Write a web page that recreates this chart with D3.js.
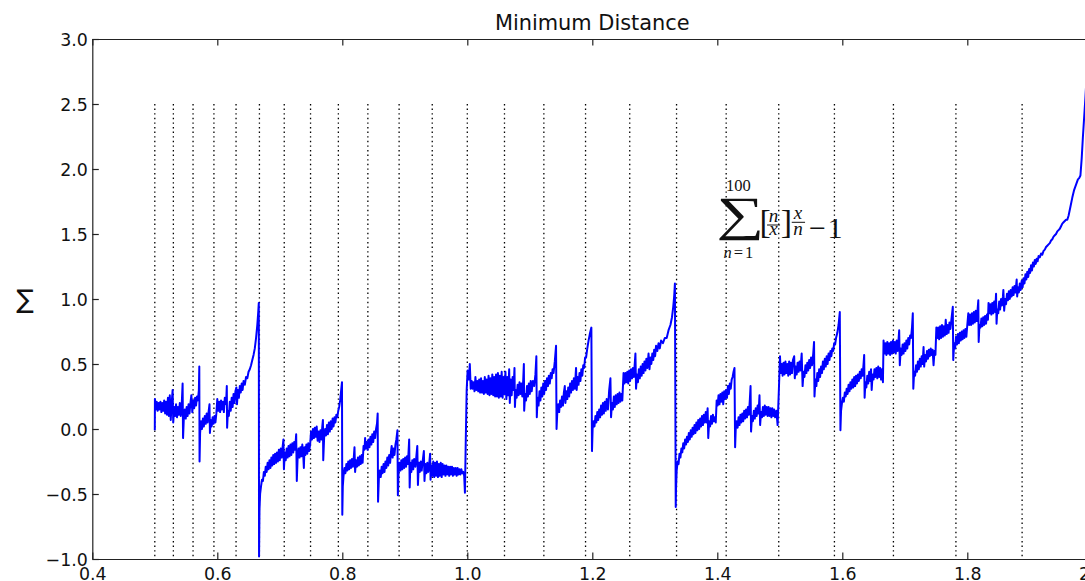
<!DOCTYPE html>
<html>
<head>
<meta charset="utf-8">
<script src="https://cdn.jsdelivr.net/npm/d3@7"></script>
<style>
  html, body { margin: 0; padding: 0; background: #fff; overflow: hidden; }
  text { font-family: "DejaVu Sans", sans-serif; }
  .math text { font-family: "Liberation Serif", "DejaVu Serif", serif; }
</style>
</head>
<body>
<svg id="chart" width="1085" height="581"></svg>
<script>
// Sum of rounded ratios minus one, sampled between x = 1/2 and x = 2.
// Each piece runs between two of the large jumps (2/3, 4/5, 1, 4/3, 3/2, 8/5).
const curveA = [[0.5000,-0.01],[0.5002,0.23],[0.5015,0.15],[0.5030,0.21],[0.5045,0.14],[0.5060,0.20],[0.5075,0.15],[0.5090,0.21],[0.5105,0.13],[0.5120,0.20],[0.5135,0.14],[0.5150,0.22],[0.5165,0.12],[0.5180,0.21],[0.5195,0.11],[0.5210,0.24],[0.5225,0.10],[0.5240,0.26],[0.5255,0.07],[0.5270,0.20],[0.5285,0.30],[0.5295,0.05],[0.5310,0.17],[0.5325,0.10],[0.5340,0.19],[0.5355,0.09],[0.5370,0.17],[0.5385,0.11],[0.5400,0.20],[0.5415,0.10],[0.5430,0.18],[0.5445,0.35],[0.5452,-0.07],[0.5465,0.09],[0.5480,0.15],[0.5495,0.08],[0.5510,0.17],[0.5525,0.10],[0.5540,0.19],[0.5555,0.12],[0.5570,0.20],[0.5585,0.26],[0.5600,0.13],[0.5615,0.22],[0.5630,0.16],[0.5645,0.24],[0.5660,0.18],[0.5675,0.25],[0.5690,0.22],[0.5705,0.30],[0.5712,0.48],[0.5716,-0.25],[0.5725,-0.03],[0.5740,0.06],[0.5755,0.00],[0.5770,0.08],[0.5785,0.02],[0.5800,0.10],[0.5815,0.04],[0.5830,0.12],[0.5845,0.05],[0.5860,0.13],[0.5875,0.19],[0.5882,-0.03],[0.5895,0.07],[0.5910,0.02],[0.5925,0.09],[0.5940,0.04],[0.5955,0.10],[0.5970,0.05],[0.5985,0.12],[0.6000,0.23],[0.6015,0.14],[0.6030,0.21],[0.6045,0.13],[0.6060,0.22],[0.6075,0.15],[0.6090,0.21],[0.6105,0.13],[0.6120,0.24],[0.6140,0.19],[0.6152,0.33],[0.6157,0.01],[0.6170,0.14],[0.6185,0.10],[0.6200,0.21],[0.6215,0.14],[0.6230,0.24],[0.6245,0.17],[0.6260,0.27],[0.6275,0.20],[0.6290,0.29],[0.6305,0.32],[0.6315,0.19],[0.6330,0.30],[0.6345,0.24],[0.6360,0.33],[0.6375,0.28],[0.6390,0.35],[0.6405,0.30],[0.6420,0.37],[0.6440,0.34],[0.6460,0.40],[0.6480,0.39],[0.6500,0.44],[0.6520,0.46],[0.6540,0.49],[0.6560,0.53],[0.6580,0.57],[0.6600,0.62],[0.6620,0.70],[0.6640,0.80],[0.6655,0.90],[0.6664,0.97],[0.6668,-0.98]];

const curveB = [[0.6675,-0.62],[0.6685,-0.50],[0.6700,-0.44],[0.6715,-0.39],[0.6730,-0.40],[0.6745,-0.33],[0.6760,-0.36],[0.6775,-0.29],[0.6790,-0.33],[0.6805,-0.26],[0.6820,-0.31],[0.6835,-0.24],[0.6850,-0.30],[0.6865,-0.22],[0.6880,-0.28],[0.6895,-0.20],[0.6910,-0.27],[0.6925,-0.19],[0.6940,-0.26],[0.6955,-0.18],[0.6970,-0.25],[0.6985,-0.16],[0.7000,-0.24],[0.7015,-0.15],[0.7030,-0.22],[0.7045,-0.14],[0.7058,-0.08],[0.7066,-0.31],[0.7080,-0.18],[0.7095,-0.24],[0.7110,-0.15],[0.7125,-0.22],[0.7140,-0.13],[0.7155,-0.21],[0.7170,-0.12],[0.7185,-0.20],[0.7200,-0.11],[0.7215,-0.18],[0.7230,-0.10],[0.7245,-0.16],[0.7262,-0.04],[0.7272,-0.40],[0.7285,-0.22],[0.7300,-0.15],[0.7315,-0.22],[0.7330,-0.14],[0.7345,-0.21],[0.7360,-0.12],[0.7375,-0.20],[0.7385,-0.30],[0.7395,-0.14],[0.7410,-0.20],[0.7425,-0.12],[0.7440,-0.19],[0.7455,-0.11],[0.7470,-0.17],[0.7485,-0.12],[0.7500,-0.02],[0.7515,-0.08],[0.7530,0.00],[0.7545,-0.07],[0.7560,0.01],[0.7575,-0.06],[0.7590,0.02],[0.7605,-0.09],[0.7620,-0.02],[0.7635,-0.10],[0.7650,-0.01],[0.7665,-0.08],[0.7680,0.02],[0.7690,0.07],[0.7695,-0.24],[0.7710,-0.06],[0.7725,0.00],[0.7740,-0.05],[0.7755,0.03],[0.7770,-0.04],[0.7785,0.05],[0.7800,-0.02],[0.7815,0.06],[0.7830,0.00],[0.7845,0.08],[0.7860,0.02],[0.7875,0.09],[0.7890,0.05],[0.7905,0.11],[0.7920,0.09],[0.7935,0.14],[0.7950,0.17],[0.7965,0.22],[0.7980,0.29],[0.7995,0.36]];

const curveC = [[0.8000,-0.66],[0.8008,-0.44],[0.8020,-0.36],[0.8035,-0.30],[0.8050,-0.34],[0.8065,-0.27],[0.8080,-0.32],[0.8095,-0.25],[0.8110,-0.31],[0.8125,-0.24],[0.8140,-0.30],[0.8155,-0.23],[0.8170,-0.29],[0.8185,-0.21],[0.8195,-0.14],[0.8205,-0.33],[0.8220,-0.24],[0.8235,-0.29],[0.8250,-0.22],[0.8265,-0.28],[0.8280,-0.21],[0.8295,-0.27],[0.8310,-0.20],[0.8325,-0.26],[0.8340,-0.13],[0.8355,-0.16],[0.8365,-0.07],[0.8375,-0.15],[0.8390,-0.10],[0.8405,-0.16],[0.8420,-0.08],[0.8435,-0.14],[0.8450,-0.06],[0.8465,-0.12],[0.8480,-0.04],[0.8495,-0.10],[0.8510,-0.02],[0.8525,-0.07],[0.8540,0.00],[0.8555,0.04],[0.8566,0.12],[0.8572,-0.56],[0.8585,-0.38],[0.8600,-0.32],[0.8615,-0.37],[0.8630,-0.29],[0.8645,-0.34],[0.8660,-0.27],[0.8675,-0.33],[0.8690,-0.25],[0.8705,-0.30],[0.8720,-0.22],[0.8735,-0.28],[0.8750,-0.20],[0.8765,-0.26],[0.8780,-0.17],[0.8790,-0.13],[0.8805,-0.22],[0.8820,-0.15],[0.8835,-0.20],[0.8850,-0.12],[0.8865,-0.08],[0.8882,-0.01],[0.8889,-0.51],[0.8900,-0.34],[0.8915,-0.26],[0.8930,-0.32],[0.8945,-0.24],[0.8960,-0.31],[0.8975,-0.23],[0.8990,-0.30],[0.9005,-0.22],[0.9020,-0.29],[0.9035,-0.21],[0.9050,-0.27],[0.9070,-0.08],[0.9078,-0.45],[0.9090,-0.26],[0.9105,-0.33],[0.9120,-0.24],[0.9135,-0.31],[0.9150,-0.23],[0.9170,-0.29],[0.9200,-0.13],[0.9210,-0.43],[0.9225,-0.26],[0.9240,-0.33],[0.9255,-0.25],[0.9270,-0.32],[0.9285,-0.25],[0.9305,-0.17],[0.9315,-0.40],[0.9330,-0.27],[0.9345,-0.34],[0.9360,-0.26],[0.9375,-0.33],[0.9390,-0.27],[0.9405,-0.19],[0.9412,-0.39],[0.9425,-0.28],[0.9440,-0.36],[0.9455,-0.25],[0.9470,-0.37],[0.9485,-0.26],[0.9500,-0.36],[0.9515,-0.25],[0.9530,-0.37],[0.9545,-0.27],[0.9560,-0.36],[0.9575,-0.26],[0.9590,-0.37],[0.9605,-0.27],[0.9620,-0.35],[0.9635,-0.28],[0.9650,-0.36],[0.9665,-0.28],[0.9680,-0.35],[0.9695,-0.29],[0.9710,-0.36],[0.9725,-0.29],[0.9740,-0.35],[0.9755,-0.29],[0.9770,-0.36],[0.9785,-0.30],[0.9800,-0.35],[0.9815,-0.30],[0.9830,-0.36],[0.9845,-0.30],[0.9860,-0.35],[0.9875,-0.31],[0.9890,-0.35],[0.9905,-0.31],[0.9920,-0.34],[0.9935,-0.33],[0.9950,-0.36],[0.9962,-0.49],[0.9975,-0.10],[0.9990,0.30]];

const curveD = [[1.0005,0.45],[1.0025,0.38],[1.0040,0.50],[1.0055,0.31],[1.0070,0.37],[1.0085,0.31],[1.0100,0.36],[1.0115,0.29],[1.0130,0.40],[1.0145,0.30],[1.0160,0.37],[1.0175,0.29],[1.0190,0.38],[1.0205,0.28],[1.0220,0.39],[1.0235,0.28],[1.0250,0.37],[1.0265,0.27],[1.0280,0.40],[1.0295,0.28],[1.0310,0.38],[1.0325,0.27],[1.0340,0.41],[1.0355,0.26],[1.0370,0.39],[1.0385,0.27],[1.0400,0.42],[1.0415,0.26],[1.0430,0.40],[1.0445,0.25],[1.0460,0.42],[1.0475,0.25],[1.0490,0.43],[1.0505,0.24],[1.0520,0.41],[1.0535,0.25],[1.0550,0.44],[1.0565,0.24],[1.0580,0.40],[1.0595,0.27],[1.0610,0.44],[1.0625,0.23],[1.0640,0.40],[1.0655,0.26],[1.0670,0.46],[1.0680,0.20],[1.0695,0.38],[1.0710,0.26],[1.0725,0.40],[1.0740,0.30],[1.0755,0.47],[1.0762,0.17],[1.0775,0.30],[1.0790,0.24],[1.0805,0.34],[1.0820,0.26],[1.0835,0.36],[1.0850,0.27],[1.0865,0.35],[1.0880,0.25],[1.0895,0.38],[1.0905,0.50],[1.0910,0.14],[1.0925,0.27],[1.0940,0.22],[1.0955,0.33],[1.0970,0.25],[1.0985,0.35],[1.1000,0.27],[1.1015,0.37],[1.1030,0.29],[1.1050,0.37],[1.1070,0.33],[1.1090,0.42],[1.1105,0.56],[1.1112,0.09],[1.1125,0.24],[1.1140,0.18],[1.1155,0.29],[1.1170,0.22],[1.1185,0.32],[1.1200,0.25],[1.1215,0.35],[1.1230,0.27],[1.1245,0.37],[1.1260,0.30],[1.1275,0.39],[1.1290,0.33],[1.1305,0.41],[1.1320,0.35],[1.1335,0.43],[1.1350,0.39],[1.1365,0.46],[1.1380,0.43],[1.1400,0.52],[1.1420,0.64],[1.1428,0.00],[1.1440,0.13],[1.1455,0.19],[1.1470,0.13],[1.1485,0.22],[1.1500,0.17],[1.1515,0.25],[1.1530,0.18],[1.1545,0.28],[1.1560,0.33],[1.1570,0.20],[1.1585,0.29],[1.1600,0.23],[1.1615,0.32],[1.1630,0.25],[1.1645,0.35],[1.1660,0.28],[1.1675,0.37],[1.1690,0.30],[1.1705,0.39],[1.1720,0.31],[1.1740,0.47],[1.1750,0.30],[1.1765,0.40],[1.1780,0.34],[1.1795,0.43],[1.1810,0.37],[1.1825,0.46],[1.1840,0.41],[1.1855,0.49],[1.1870,0.47],[1.1885,0.55],[1.1900,0.55],[1.1920,0.62],[1.1940,0.68],[1.1960,0.73],[1.1985,0.78],[1.1995,-0.17],[1.2005,0.00],[1.2020,0.06],[1.2035,0.02],[1.2050,0.10],[1.2065,0.05],[1.2080,0.13],[1.2095,0.07],[1.2110,0.15],[1.2125,0.09],[1.2140,0.18],[1.2155,0.11],[1.2170,0.20],[1.2185,0.12],[1.2200,0.21],[1.2215,0.14],[1.2230,0.23],[1.2250,0.15],[1.2270,0.30],[1.2290,0.39],[1.2300,0.09],[1.2315,0.20],[1.2330,0.15],[1.2345,0.25],[1.2360,0.17],[1.2375,0.26],[1.2390,0.19],[1.2405,0.27],[1.2420,0.20],[1.2435,0.28],[1.2450,0.21],[1.2465,0.27],[1.2480,0.22],[1.2500,0.43],[1.2515,0.35],[1.2530,0.43],[1.2545,0.36],[1.2560,0.44],[1.2575,0.35],[1.2590,0.45],[1.2605,0.37],[1.2620,0.46],[1.2635,0.39],[1.2650,0.47],[1.2665,0.40],[1.2690,0.58],[1.2700,0.31],[1.2715,0.42],[1.2730,0.36],[1.2745,0.46],[1.2760,0.39],[1.2775,0.48],[1.2790,0.41],[1.2805,0.50],[1.2820,0.43],[1.2835,0.52],[1.2850,0.45],[1.2865,0.54],[1.2880,0.47],[1.2900,0.58],[1.2915,0.46],[1.2930,0.55],[1.2945,0.50],[1.2960,0.58],[1.2975,0.53],[1.2990,0.61],[1.3005,0.56],[1.3020,0.64],[1.3040,0.60],[1.3060,0.66],[1.3080,0.62],[1.3100,0.68],[1.3130,0.66],[1.3160,0.70],[1.3190,0.70],[1.3220,0.76],[1.3250,0.80],[1.3275,0.86],[1.3295,0.94],[1.3310,1.02],[1.3322,1.12],[1.3335,-0.60]];

const curveE = [[1.3340,-0.45],[1.3350,-0.32],[1.3365,-0.25],[1.3380,-0.27],[1.3395,-0.19],[1.3410,-0.22],[1.3425,-0.15],[1.3440,-0.18],[1.3455,-0.11],[1.3470,-0.15],[1.3485,-0.08],[1.3500,-0.12],[1.3515,-0.06],[1.3530,-0.10],[1.3545,-0.03],[1.3560,-0.08],[1.3575,-0.01],[1.3590,-0.06],[1.3605,0.01],[1.3620,-0.04],[1.3635,0.03],[1.3650,-0.03],[1.3665,0.05],[1.3680,-0.01],[1.3695,0.07],[1.3710,0.00],[1.3725,0.08],[1.3740,0.02],[1.3755,0.10],[1.3770,0.03],[1.3785,0.11],[1.3800,0.05],[1.3815,0.13],[1.3830,0.05],[1.3845,0.16],[1.3855,-0.07],[1.3870,0.06],[1.3885,0.02],[1.3900,0.10],[1.3915,0.04],[1.3930,0.11],[1.3945,0.06],[1.3960,0.09],[1.3975,0.05],[1.3990,0.22],[1.4005,0.18],[1.4020,0.26],[1.4035,0.19],[1.4050,0.27],[1.4065,0.21],[1.4080,0.28],[1.4095,0.19],[1.4110,0.29],[1.4125,0.23],[1.4140,0.30],[1.4155,0.24],[1.4170,0.33],[1.4185,0.27],[1.4200,0.35],[1.4215,0.31],[1.4230,0.38],[1.4245,0.40],[1.4260,0.44],[1.4275,0.47],[1.4285,-0.14],[1.4295,0.00],[1.4310,0.06],[1.4325,0.01],[1.4340,0.09],[1.4355,0.03],[1.4370,0.11],[1.4385,0.05],[1.4400,0.12],[1.4415,0.06],[1.4430,0.14],[1.4445,0.08],[1.4460,0.15],[1.4475,0.09],[1.4490,0.17],[1.4505,0.11],[1.4520,0.22],[1.4532,0.33],[1.4540,-0.02],[1.4555,0.10],[1.4570,0.06],[1.4585,0.14],[1.4600,0.08],[1.4615,0.16],[1.4630,0.10],[1.4645,0.18],[1.4660,0.12],[1.4675,0.26],[1.4685,0.03],[1.4700,0.13],[1.4715,0.09],[1.4730,0.17],[1.4745,0.10],[1.4760,0.18],[1.4775,0.11],[1.4790,0.17],[1.4805,0.10],[1.4820,0.17],[1.4835,0.10],[1.4850,0.16],[1.4865,0.09],[1.4880,0.16],[1.4895,0.10],[1.4910,0.15],[1.4925,0.09],[1.4945,0.14],[1.4965,0.03],[1.4985,0.30],[1.5003,0.56]];

const curveF = [[1.5015,0.43],[1.5030,0.50],[1.5045,0.41],[1.5060,0.51],[1.5075,0.42],[1.5090,0.52],[1.5105,0.43],[1.5120,0.50],[1.5135,0.41],[1.5150,0.52],[1.5165,0.42],[1.5180,0.51],[1.5195,0.43],[1.5210,0.53],[1.5230,0.56],[1.5240,0.39],[1.5255,0.48],[1.5270,0.42],[1.5285,0.51],[1.5300,0.44],[1.5315,0.52],[1.5330,0.45],[1.5350,0.58],[1.5365,0.33],[1.5380,0.44],[1.5395,0.40],[1.5410,0.49],[1.5425,0.43],[1.5440,0.51],[1.5455,0.45],[1.5470,0.53],[1.5485,0.47],[1.5500,0.55],[1.5515,0.49],[1.5535,0.58],[1.5548,0.67],[1.5555,0.25],[1.5570,0.38],[1.5585,0.33],[1.5600,0.43],[1.5615,0.37],[1.5630,0.46],[1.5645,0.40],[1.5660,0.48],[1.5675,0.43],[1.5690,0.52],[1.5705,0.46],[1.5720,0.54],[1.5735,0.48],[1.5750,0.56],[1.5765,0.50],[1.5780,0.58],[1.5795,0.53],[1.5810,0.60],[1.5825,0.56],[1.5840,0.62],[1.5855,0.60],[1.5870,0.66],[1.5885,0.65],[1.5900,0.70],[1.5920,0.74],[1.5940,0.80],[1.5960,0.90],[1.5970,-0.01]];

const curveG = [[1.5980,0.14],[1.5995,0.20],[1.6010,0.24],[1.6025,0.21],[1.6040,0.28],[1.6055,0.25],[1.6070,0.31],[1.6085,0.27],[1.6100,0.34],[1.6115,0.29],[1.6130,0.36],[1.6145,0.31],[1.6160,0.38],[1.6175,0.32],[1.6190,0.40],[1.6205,0.33],[1.6220,0.41],[1.6235,0.35],[1.6250,0.42],[1.6265,0.37],[1.6280,0.44],[1.6295,0.39],[1.6310,0.46],[1.6325,0.41],[1.6340,0.50],[1.6350,0.57],[1.6357,0.24],[1.6370,0.36],[1.6385,0.32],[1.6400,0.41],[1.6415,0.35],[1.6430,0.44],[1.6445,0.37],[1.6460,0.46],[1.6470,0.30],[1.6485,0.42],[1.6500,0.38],[1.6515,0.46],[1.6530,0.40],[1.6545,0.47],[1.6560,0.39],[1.6575,0.48],[1.6590,0.40],[1.6605,0.47],[1.6620,0.38],[1.6635,0.46],[1.6650,0.36],[1.6660,0.68],[1.6675,0.58],[1.6690,0.66],[1.6705,0.57],[1.6720,0.67],[1.6735,0.58],[1.6750,0.66],[1.6765,0.57],[1.6780,0.67],[1.6795,0.58],[1.6810,0.68],[1.6825,0.59],[1.6840,0.67],[1.6855,0.58],[1.6870,0.68],[1.6885,0.60],[1.6900,0.69],[1.6910,0.76],[1.6920,0.49],[1.6935,0.62],[1.6950,0.57],[1.6965,0.65],[1.6980,0.58],[1.6995,0.66],[1.7010,0.60],[1.7025,0.68],[1.7040,0.62],[1.7055,0.70],[1.7070,0.65],[1.7085,0.72],[1.7100,0.70],[1.7115,0.78],[1.7128,0.89],[1.7136,0.31],[1.7150,0.44],[1.7165,0.41],[1.7180,0.49],[1.7195,0.44],[1.7210,0.52],[1.7225,0.46],[1.7240,0.54],[1.7255,0.48],[1.7270,0.56],[1.7285,0.50],[1.7300,0.63],[1.7310,0.48],[1.7325,0.57],[1.7340,0.52],[1.7355,0.60],[1.7370,0.54],[1.7385,0.61],[1.7400,0.56],[1.7415,0.62],[1.7430,0.57],[1.7445,0.61],[1.7460,0.49],[1.7475,0.60],[1.7490,0.57],[1.7505,0.78],[1.7520,0.70],[1.7535,0.78],[1.7550,0.69],[1.7565,0.79],[1.7580,0.70],[1.7595,0.80],[1.7610,0.71],[1.7625,0.79],[1.7640,0.72],[1.7655,0.84],[1.7670,0.73],[1.7685,0.80],[1.7700,0.74],[1.7715,0.82],[1.7730,0.77],[1.7750,0.86],[1.7768,0.94],[1.7775,0.53],[1.7790,0.66],[1.7805,0.62],[1.7820,0.71],[1.7835,0.65],[1.7850,0.73],[1.7865,0.66],[1.7880,0.74],[1.7895,0.68],[1.7910,0.75],[1.7925,0.69],[1.7940,0.76],[1.7955,0.70],[1.7970,0.77],[1.7985,0.71],[1.8000,0.80],[1.8016,0.89],[1.8030,0.80],[1.8045,0.88],[1.8060,0.80],[1.8075,0.89],[1.8090,0.81],[1.8105,0.90],[1.8120,0.82],[1.8135,0.91],[1.8150,0.83],[1.8165,0.92],[1.8176,0.99],[1.8182,0.67],[1.8195,0.80],[1.8210,0.78],[1.8225,0.85],[1.8240,0.79],[1.8255,0.86],[1.8270,0.80],[1.8285,0.87],[1.8300,0.81],[1.8315,0.88],[1.8330,0.84],[1.8340,0.97],[1.8355,0.89],[1.8370,0.96],[1.8385,0.88],[1.8400,0.97],[1.8415,0.89],[1.8430,0.98],[1.8445,0.90],[1.8460,1.04],[1.8468,0.81],[1.8480,0.92],[1.8495,0.89],[1.8510,0.98],[1.8525,0.92],[1.8540,1.00],[1.8555,0.95],[1.8570,1.02],[1.8577,1.07],[1.8590,0.91],[1.8605,1.00],[1.8620,0.96],[1.8635,1.04],[1.8650,0.99],[1.8665,1.06],[1.8680,1.00],[1.8695,1.07],[1.8710,1.02],[1.8725,1.09],[1.8740,1.03],[1.8755,1.10],[1.8770,1.05],[1.8790,1.15],[1.8798,1.02],[1.8810,1.09],[1.8825,1.05],[1.8840,1.12],[1.8855,1.07],[1.8870,1.14],[1.8885,1.09],[1.8900,1.16],[1.8915,1.12],[1.8930,1.19],[1.8945,1.15],[1.8960,1.21],[1.8975,1.17],[1.8990,1.23],[1.9005,1.20],[1.9020,1.26],[1.9035,1.22],[1.9050,1.28],[1.9065,1.25],[1.9080,1.30],[1.9095,1.27],[1.9110,1.31],[1.9125,1.29],[1.9140,1.33],[1.9160,1.32],[1.9180,1.35],[1.9200,1.34],[1.9220,1.37],[1.9240,1.38],[1.9260,1.40],[1.9280,1.41],[1.9300,1.42],[1.9320,1.43],[1.9340,1.45],[1.9360,1.46],[1.9380,1.48],[1.9400,1.49],[1.9420,1.50],[1.9440,1.52],[1.9460,1.53],[1.9480,1.54],[1.9500,1.56],[1.9520,1.58],[1.9540,1.59],[1.9560,1.60],[1.9580,1.61],[1.9600,1.61],[1.9620,1.64],[1.9650,1.71],[1.9680,1.78],[1.9710,1.84],[1.9740,1.88],[1.9770,1.92],[1.9790,1.93],[1.9810,1.95],[1.9830,2.08],[1.9850,2.25],[1.9870,2.40],[1.9890,2.55],[1.9910,2.72]];

// Equal-tempered semitone ratios over one octave (reference lines).
const semitoneRatios = [0.5000, 0.5297, 0.5612, 0.5946, 0.6300, 0.6674, 0.7071, 0.7492, 0.7937, 0.8409, 0.8909, 0.9439, 1.0000, 1.0595, 1.1225, 1.1892, 1.2599, 1.3348, 1.4142, 1.4983, 1.5874, 1.6818, 1.7818, 1.8877];
const semitoneTop = 2.5;

const xTicks = [0.4, 0.6, 0.8, 1.0, 1.2, 1.4, 1.6, 1.8, 2.0];
const yTicks = [-1.0, -0.5, 0.0, 0.5, 1.0, 1.5, 2.0, 2.5, 3.0];
const xDomain = [0.4, 2.0];
const yDomain = [-1.0, 3.0];

const titleText = "Minimum Distance";
const yLabelText = "\u2211";

const series = [].concat(curveA, curveB, curveC, curveD, curveE, curveF, curveG);

// ---- layout ----
const plotLeft = 92.3, plotRight = 1092.3, plotTop = 39, plotBottom = 559;
const svg = d3.select("#chart");

const x = d3.scaleLinear().domain(xDomain).range([plotLeft, plotRight]);
const y = d3.scaleLinear().domain(yDomain).range([plotBottom, plotTop]);

svg.append("defs").append("clipPath").attr("id", "plot-clip")
  .append("rect").attr("x", plotLeft).attr("y", plotTop)
  .attr("width", plotRight - plotLeft).attr("height", plotBottom - plotTop);

// dotted semitone lines
svg.append("g").attr("class", "semitones")
  .selectAll("line").data(semitoneRatios).join("line")
  .attr("x1", d => x(d)).attr("x2", d => x(d))
  .attr("y1", y(semitoneTop)).attr("y2", y(yDomain[0]))
  .attr("stroke", "#000").attr("stroke-width", 1.3)
  .attr("stroke-dasharray", "1.4,3.2");

// the curve
const line = d3.line().x(d => x(d[0])).y(d => y(d[1]));
svg.append("path").datum(series)
  .attr("clip-path", "url(#plot-clip)")
  .attr("d", line)
  .attr("fill", "none")
  .attr("stroke", "#0000ff")
  .attr("stroke-width", 2.0)
  .attr("stroke-linejoin", "round");

// axes: ticks point inward on all four sides
const fmt = d3.format(".1f");
const tickLen = 6.5;
const fontSize = "17.4px";

function styleAxis(g) {
  g.selectAll(".domain").attr("stroke", "#222").attr("stroke-width", 1.2);
  g.selectAll(".tick line").attr("stroke", "#222").attr("stroke-width", 1.2);
  g.selectAll("text").attr("fill", "#111").style("font-size", fontSize)
    .style("font-family", "'DejaVu Sans', sans-serif");
}

const gx = svg.append("g").attr("transform", `translate(0,${plotBottom})`)
  .call(d3.axisBottom(x).tickValues(xTicks).tickFormat(fmt)
    .tickSizeInner(-tickLen).tickSizeOuter(0))
  .call(styleAxis);
gx.selectAll("text").attr("dy", null).attr("y", 20.5);

svg.append("g").attr("transform", `translate(0,${plotTop})`)
  .call(d3.axisTop(x).tickValues(xTicks).tickFormat("")
    .tickSizeInner(-tickLen).tickSizeOuter(0))
  .call(styleAxis);

const gy = svg.append("g").attr("transform", `translate(${plotLeft},0)`)
  .call(d3.axisLeft(y).tickValues(yTicks).tickFormat(fmt)
    .tickSizeInner(-tickLen).tickSizeOuter(0).tickPadding(4.5))
  .call(styleAxis);
gy.selectAll("text").attr("dy", "0.36em");

svg.append("g").attr("transform", `translate(${plotRight},0)`)
  .call(d3.axisRight(y).tickValues(yTicks).tickFormat("")
    .tickSizeInner(-tickLen).tickSizeOuter(0))
  .call(styleAxis);

// title and y label
svg.append("text").attr("x", (plotLeft + plotRight) / 2).attr("y", 30)
  .attr("text-anchor", "middle").style("font-size", "20.9px")
  .attr("fill", "#111").text(titleText);

svg.append("text").attr("x", 25).attr("y", 308)
  .attr("text-anchor", "middle").style("font-size", "26px")
  .attr("fill", "#111").text(yLabelText);

// formula annotation, anchored in data space
const ax = x(1.43), ay = y(1.5);
const m = svg.append("g").attr("class", "math")
  .attr("transform", `translate(${ax},${ay})`).attr("fill", "#111");

// limits
m.append("text").attr("x", 2.3).attr("y", -43.5).attr("text-anchor", "middle")
  .style("font-size", "16.5px").text("100");
m.append("text").attr("transform", "translate(4.5,-3.7) scale(1.4,1)")
  .attr("text-anchor", "middle").style("font-size", "48px").text("\u2211");
m.append("text").attr("x", 2.3).attr("y", 23.5).attr("text-anchor", "middle")
  .style("font-size", "16.5px")
  .html('<tspan font-style="italic">n</tspan><tspan dx="2">=</tspan><tspan dx="2">1</tspan>');
// [n/x]
m.append("text").attr("x", 23.5).attr("y", -1).style("font-size", "34px").text("[");
m.append("text").attr("x", 37.5).attr("y", -12.3).attr("text-anchor", "middle")
  .style("font-size", "19px").style("font-style", "italic").text("n");
m.append("line").attr("x1", 31).attr("x2", 44).attr("y1", -9).attr("y2", -9)
  .attr("stroke", "#111").attr("stroke-width", 1);
m.append("text").attr("x", 37.5).attr("y", 1).attr("text-anchor", "middle")
  .style("font-size", "19px").style("font-style", "italic").text("x");
m.append("text").attr("x", 44.7).attr("y", -1).style("font-size", "34px").text("]");
// x/n
m.append("text").attr("x", 62).attr("y", -15).attr("text-anchor", "middle")
  .style("font-size", "19px").style("font-style", "italic").text("x");
m.append("line").attr("x1", 55.7).attr("x2", 69).attr("y1", -11.7).attr("y2", -11.7)
  .attr("stroke", "#111").attr("stroke-width", 1);
m.append("text").attr("x", 62).attr("y", 1).attr("text-anchor", "middle")
  .style("font-size", "19px").style("font-style", "italic").text("n");
// −1
m.append("text").attr("x", 73).attr("y", 4.3).style("font-size", "30px").text("\u2212");
m.append("text").attr("x", 91.5).attr("y", 4.3).style("font-size", "30px").text("1");
</script>
</body>
</html>
